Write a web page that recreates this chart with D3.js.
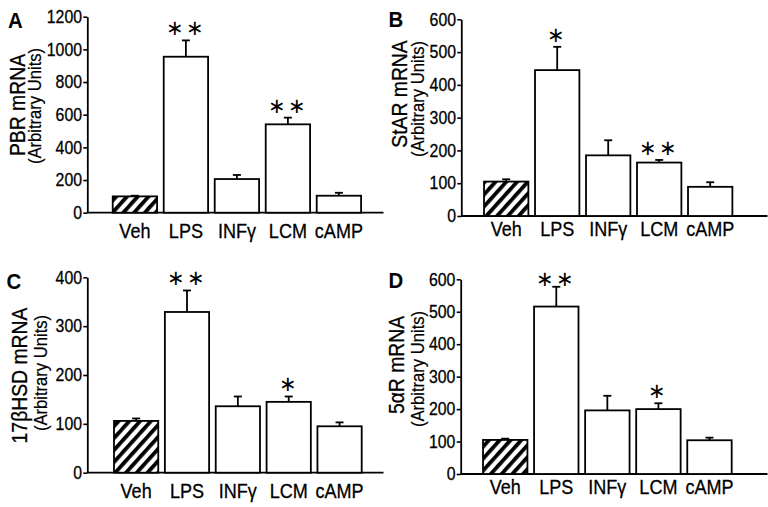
<!DOCTYPE html>
<html><head><meta charset="utf-8">
<script src="https://cdn.jsdelivr.net/npm/d3@7"></script>
<style>
body{margin:0;background:#fff}
svg{display:block}
text{font-family:"Liberation Sans",Arial,Helvetica,sans-serif;fill:#000}
</style>
</head><body>
<svg id="chart" width="768" height="507"></svg>
<script>
// ---- data ----
const categories = ["Veh", "LPS", "INFγ", "LCM", "cAMP"];

const pbrValues = [100, 955, 206, 541, 104];
const pbrErrors = [4, 100, 25, 41, 18];
const pbrSig    = ["", "**", "", "**", ""];
const pbrTicks  = [0, 200, 400, 600, 800, 1000, 1200];

const starValues = [105, 445, 185, 163, 89];
const starErrors = [7, 71, 46, 8, 14];
const starSig    = ["", "*", "", "**", ""];
const starTicks  = [0, 100, 200, 300, 400, 500, 600];

const hsdValues = [106, 329, 136, 145, 95];
const hsdErrors = [5, 44, 20, 11, 8];
const hsdSig    = ["", "**", "", "*", ""];
const hsdTicks  = [0, 100, 200, 300, 400];

const redValues = [105, 516, 196, 200, 104];
const redErrors = [4, 61, 45, 18, 8];
const redSig    = ["", "**", "", "*", ""];
const redTicks  = [0, 100, 200, 300, 400, 500, 600];

const panelLetters = ["A", "B", "C", "D"];
const panelTitles  = ["PBR mRNA", "StAR mRNA", "17βHSD mRNA", "5αR mRNA"];
const subTitle = "(Arbitrary Units)";

// ---- layout (positions only) ----
const SX = 0.88; // text condensation along reading direction
const layout = [
  {ax:87.3, y0:212.7, y1:16.7, xr:[109.4,364.4], xEnd:383.5, lx:8, ly:28.3, tx:25, ty:105, sx:40.5, sy:106, pad:10.3},
  {ax:461.3, y0:216, y1:19.3, xr:[480.7,735.7], xEnd:767.5, lx:388.5, ly:27.3, tx:407, ty:94, sx:423.6, sy:99, pad:5.5},
  {ax:87.3, y0:472.7, y1:277.3, xr:[110.7,365], xEnd:383.5, lx:6.5, ly:289.3, tx:26.5, ty:375.5, sx:46.9, sy:373, pad:10.4},
  {ax:460.7, y0:474, y1:279.3, xr:[479.7,735], xEnd:767.5, lx:388.5, ly:288.3, tx:404, ty:365, sx:423.5, sy:369, pad:5.1}
];
const datasets = [
  {values:pbrValues, errors:pbrErrors, sig:pbrSig, ticks:pbrTicks},
  {values:starValues, errors:starErrors, sig:starSig, ticks:starTicks},
  {values:hsdValues, errors:hsdErrors, sig:hsdSig, ticks:hsdTicks},
  {values:redValues, errors:redErrors, sig:redSig, ticks:redTicks}
];

const svg = d3.select("#chart");
svg.append("rect").attr("width",768).attr("height",507).attr("fill","#fff");

const defs = svg.append("defs");
defs.append("pattern")
  .attr("id","hatch").attr("patternUnits","userSpaceOnUse")
  .attr("width",8).attr("height",8)
  .attr("patternTransform","rotate(42)")
  .append("rect").attr("x",0).attr("y",0).attr("width",3.8).attr("height",8).attr("fill","#000");

datasets.forEach((d, i) => {
  const L = layout[i];
  const g = svg.append("g");
  const y = d3.scaleLinear().domain([0, d3.max(d.ticks)]).range([L.y0, L.y1]);
  const x = d3.scaleBand().domain(categories).range(L.xr).paddingInner(0.13).paddingOuter(0.065);

  // y axis
  const yAxis = d3.axisLeft(y).tickValues(d.ticks).tickFormat(d3.format("d"))
    .tickSize(4).tickSizeOuter(0).tickPadding(2);
  const yg = g.append("g").attr("transform", `translate(${L.ax},0)`).call(yAxis);
  yg.select(".domain").attr("stroke","#000").attr("stroke-width",1.8);
  yg.selectAll(".tick line").attr("stroke","#000").attr("stroke-width",1.6);
  yg.selectAll(".tick text")
    .attr("font-size",18)
    .attr("font-family","Liberation Sans, Arial, sans-serif")
    .attr("fill","#000").attr("stroke","#000").attr("stroke-width",0.3)
    .attr("transform",`scale(${SX},1)`);

  // baseline
  g.append("line").attr("x1",L.ax).attr("x2",L.xEnd).attr("y1",L.y0).attr("y2",L.y0)
    .attr("stroke","#000").attr("stroke-width",1.8);

  // x labels
  const xAxis = d3.axisBottom(x).tickSize(0).tickPadding(L.pad);
  const xg = g.append("g").attr("transform", `translate(0,${L.y0})`).call(xAxis);
  xg.select(".domain").remove();
  xg.selectAll(".tick text")
    .attr("font-size",20.5)
    .attr("font-family","Liberation Sans, Arial, sans-serif")
    .attr("fill","#000").attr("stroke","#000").attr("stroke-width",0.3)
    .attr("transform",`scale(${SX},1)`);

  const rows = categories.map((c, k) => ({c, v:d.values[k], e:d.errors[k], s:d.sig[k], k}));

  // bars
  const bars = g.selectAll(".bar").data(rows).join("g");
  bars.append("rect")
    .attr("x", r => x(r.c)).attr("width", x.bandwidth())
    .attr("y", r => y(r.v)).attr("height", r => y(0) - y(r.v))
    .attr("fill", "#fff");
  bars.filter(r => r.k === 0).append("rect")
    .attr("x", r => x(r.c)).attr("width", x.bandwidth())
    .attr("y", r => y(r.v)).attr("height", r => y(0) - y(r.v))
    .attr("fill", "url(#hatch)");
  // error bars
  bars.append("line")
    .attr("x1", r => x(r.c) + x.bandwidth()/2).attr("x2", r => x(r.c) + x.bandwidth()/2)
    .attr("y1", r => y(r.v)).attr("y2", r => y(r.v + r.e))
    .attr("stroke","#000").attr("stroke-width",1.8);
  bars.append("line")
    .attr("x1", r => x(r.c) + x.bandwidth()/2 - 4).attr("x2", r => x(r.c) + x.bandwidth()/2 + 4)
    .attr("y1", r => y(r.v + r.e)).attr("y2", r => y(r.v + r.e))
    .attr("stroke","#000").attr("stroke-width",1.8);
  bars.append("rect")
    .attr("x", r => x(r.c)).attr("width", x.bandwidth())
    .attr("y", r => y(r.v)).attr("height", r => y(0) - y(r.v))
    .attr("fill", "none").attr("stroke","#000").attr("stroke-width",1.8);

  // significance stars (centre of glyph ~11px above error cap)
  bars.filter(r => r.s).append("text")
    .attr("transform", r => {
      const cy = Math.max(y(r.v + r.e) - 11, L.y1 + 1);
      return `translate(${x(r.c) + x.bandwidth()/2},${cy + 6})`;
    })
    .attr("text-anchor","middle")
    .attr("font-family","DejaVu Sans, sans-serif")
    .attr("font-size",21)
    .attr("letter-spacing", 2)
    .text(r => r.s.replace(/\*/g, "∗"));

  // panel letter
  g.append("text")
    .attr("transform", `translate(${L.lx},${L.ly}) scale(0.95,1)`)
    .attr("font-size",21.5).attr("font-weight","bold")
    .text(panelLetters[i]);

  // y titles
  g.append("text")
    .attr("transform", `translate(${L.tx},${L.ty}) rotate(-90) scale(0.9,1)`)
    .attr("text-anchor","middle").attr("font-size",21.5)
    .attr("stroke","#000").attr("stroke-width",0.3)
    .text(panelTitles[i]);
  g.append("text")
    .attr("transform", `translate(${L.sx},${L.sy}) rotate(-90) scale(0.95,1)`)
    .attr("text-anchor","middle").attr("font-size",17.5)
    .attr("stroke","#000").attr("stroke-width",0.2)
    .text(subTitle);
});
</script>
</body></html>
